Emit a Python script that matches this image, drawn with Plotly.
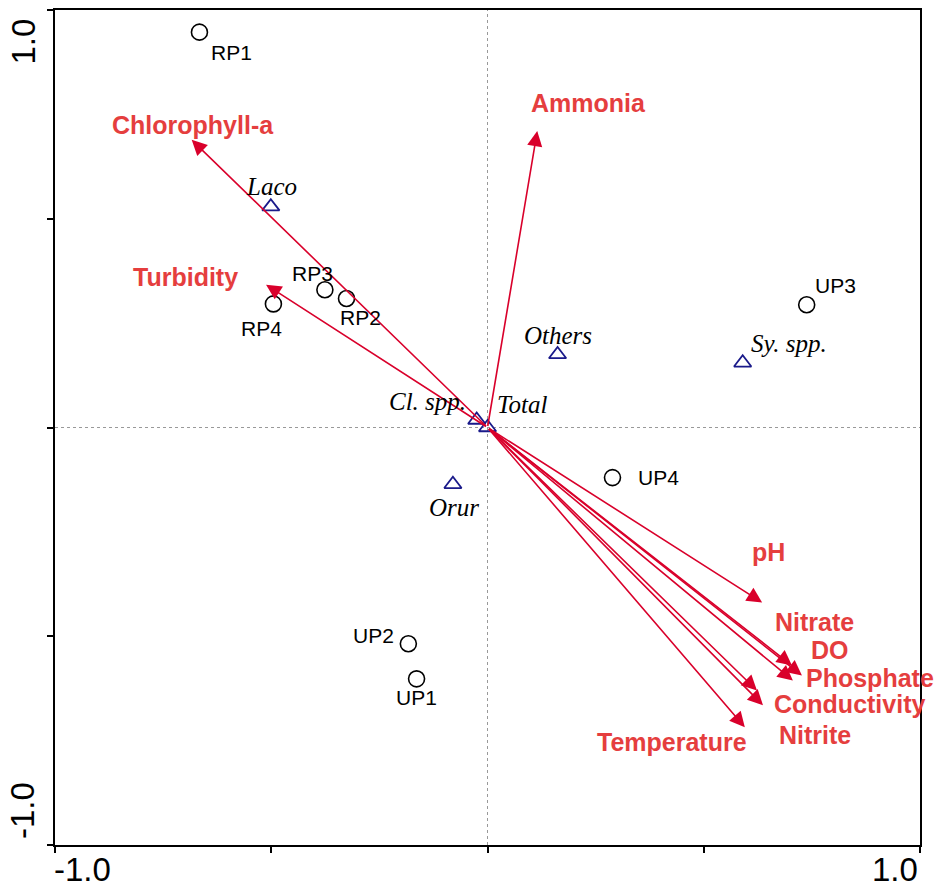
import plotly.graph_objects as go

# ---------------- data ----------------
site_names = ["RP1", "RP2", "RP3", "RP4", "UP1", "UP2", "UP3", "UP4"]
site_x = [-0.666, -0.326, -0.376, -0.495, -0.164, -0.183, 0.738, 0.289]
site_y = [0.947, 0.309, 0.330, 0.296, -0.602, -0.518, 0.294, -0.120]

species_names = ["Laco", "Others", "Sy. spp.", "Cl. spp.", "Total", "Orur"]
species_x = [-0.501, 0.162, 0.590, -0.025, 0.000, -0.080]
species_y = [0.529, 0.175, 0.155, 0.018, 0.000, -0.136]

env_names = ["Chlorophyll-a", "Ammonia", "Turbidity", "pH", "Nitrate", "DO",
             "Phosphate", "Conductivity", "Nitrite", "Temperature"]
env_x = [-0.684, 0.115, -0.512, 0.635, 0.704, 0.706, 0.727, 0.623, 0.637, 0.595]
env_y = [0.689, 0.710, 0.342, -0.419, -0.570, -0.606, -0.594, -0.630, -0.665, -0.718]

axis_ticks = [-1.0, -0.5, 0.0, 0.5, 1.0]
axis_end_labels = ["-1.0", "1.0"]

# ---------------- label offsets (pixels) ----------------
site_off = {"RP1": (32, -20), "RP2": (14, -19), "RP3": (-12, 16), "RP4": (-12, -25),
            "UP1": (0, -19), "UP2": (-35, 8), "UP3": (29, 19), "UP4": (46, 0)}
species_off = {"Laco": (1, 20), "Others": (0, 19), "Sy. spp.": (46, 19),
               "Cl. spp.": (-49, 18), "Total": (35, 23), "Orur": (1, -23)}
env_off = {"Chlorophyll-a": (1, 15), "Ammonia": (51, 28), "Turbidity": (-81, 8),
           "pH": (6, 50), "Nitrate": (23, 43), "DO": (37, 31), "Phosphate": (68, -2),
           "Conductivity": (93, -13), "Nitrite": (52, -30), "Temperature": (-73, -15)}

ARROW = "#d9002b"
LABEL_RED = "#e53e3e"
NAVY = "#1a1a8a"
SANS = "Liberation Sans, Arial, sans-serif"
SERIF = "Liberation Serif, Times New Roman, serif"

MARGIN = dict(l=55, r=18, t=8, b=45)
H = 890

fig = go.Figure()

# sites
fig.add_trace(go.Scatter(
    x=site_x, y=site_y, mode="markers",
    marker=dict(symbol="circle-open", size=16, color="black", line=dict(width=1.6, color="black")),
    hoverinfo="skip", showlegend=False))

# species
fig.add_trace(go.Scatter(
    x=species_x, y=species_y, mode="markers",
    marker=dict(symbol="triangle-up-open", size=15, color=NAVY, line=dict(width=1.8, color=NAVY)),
    hoverinfo="skip", showlegend=False))

ann = []
# env arrows
for n, x, y in zip(env_names, env_x, env_y):
    ann.append(dict(x=x, y=y, ax=0, ay=0, xref="x", yref="y", axref="x", ayref="y",
                    text="", showarrow=True, arrowhead=2, arrowsize=1.9, arrowwidth=1.6,
                    arrowcolor=ARROW))
    dx, dy = env_off[n]
    ann.append(dict(x=x, y=y, xref="x", yref="y", text="<b>%s</b>" % n, showarrow=False,
                    xshift=dx, yshift=dy, font=dict(family=SANS, size=25, color=LABEL_RED)))

for n, x, y in zip(site_names, site_x, site_y):
    dx, dy = site_off[n]
    ann.append(dict(x=x, y=y, xref="x", yref="y", text=n, showarrow=False,
                    xshift=dx, yshift=dy, font=dict(family=SANS, size=21, color="black")))

for n, x, y in zip(species_names, species_x, species_y):
    dx, dy = species_off[n]
    ann.append(dict(x=x, y=y, xref="x", yref="y", text="<i>%s</i>" % n, showarrow=False,
                    xshift=dx, yshift=dy, font=dict(family=SERIF, size=25, color="black")))

# axis end labels
tickfont = dict(family=SANS, size=33, color="black")
plot_h = H - MARGIN["t"] - MARGIN["b"]
bottom_paper = -MARGIN["b"] / plot_h
ann.append(dict(x=axis_ticks[0], y=bottom_paper, xref="x", yref="paper", text=axis_end_labels[0],
                showarrow=False, xanchor="left", yanchor="bottom", xshift=-3, font=tickfont))
ann.append(dict(x=axis_ticks[-1], y=bottom_paper, xref="x", yref="paper", text=axis_end_labels[1],
                showarrow=False, xanchor="right", yanchor="bottom", font=tickfont))
ann.append(dict(x=0, y=axis_ticks[-1], xref="paper", yref="y", text=axis_end_labels[1],
                showarrow=False, xanchor="right", yanchor="top", xshift=-12, yshift=-7,
                textangle=-90, font=tickfont))
ann.append(dict(x=0, y=axis_ticks[0], xref="paper", yref="y", text=axis_end_labels[0],
                showarrow=False, xanchor="right", yanchor="bottom", xshift=-12, yshift=4,
                textangle=-90, font=tickfont))

shapes = [
    dict(type="line", xref="x", yref="y", x0=0, x1=0, y0=-1, y1=1,
         line=dict(color="#999999", width=1, dash="dot"), layer="below"),
    dict(type="line", xref="x", yref="y", x0=-1, x1=1, y0=0, y1=0,
         line=dict(color="#999999", width=1, dash="dot"), layer="below"),
]

axis_common = dict(range=[-1, 1], showgrid=False, zeroline=False, showline=True,
                   linecolor="black", linewidth=2, mirror=True, ticks="outside",
                   ticklen=6, tickwidth=1.5, tickcolor="black", tickvals=axis_ticks,
                   showticklabels=False, fixedrange=True)

fig.update_layout(
    width=938, height=H,
    margin=MARGIN,
    paper_bgcolor="white", plot_bgcolor="white",
    xaxis=axis_common, yaxis=axis_common,
    annotations=ann, shapes=shapes, showlegend=False,
)

fig.write_html("out.html")
